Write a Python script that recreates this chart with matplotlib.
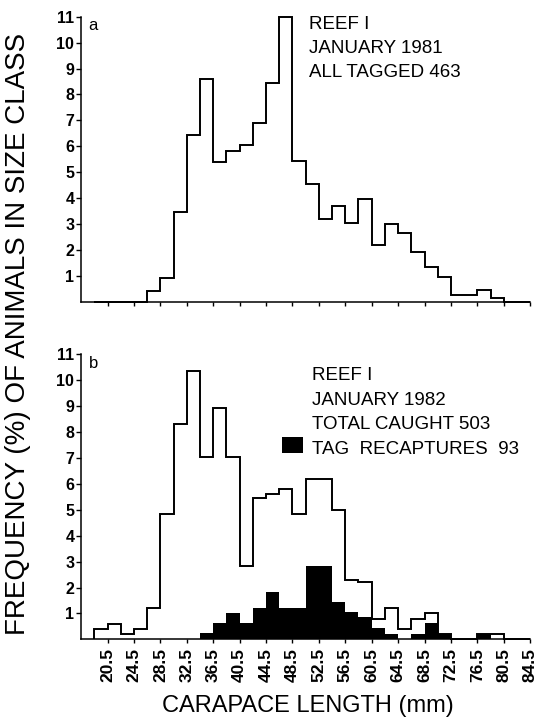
import numpy as np
import matplotlib.pyplot as plt
from matplotlib.patches import Rectangle

plt.rcParams['font.family'] = ['Liberation Sans', 'DejaVu Sans']

# size class boundaries (mm), 2 mm classes
edges = [18.5, 20.5, 22.5, 24.5, 26.5, 28.5, 30.5, 32.5, 34.5, 36.5, 38.5,
         40.5, 42.5, 44.5, 46.5, 48.5, 50.5, 52.5, 54.5, 56.5, 58.5, 60.5,
         62.5, 64.5, 66.5, 68.5, 70.5, 72.5, 74.5, 76.5, 78.5, 80.5, 82.5, 84.5]

# panel a: reef I, january 1981, all tagged
tagged_1981 = [0, 0, 0, 0, 0.4, 0.9, 3.45, 6.45, 8.6, 5.4, 5.8,
               6.05, 6.9, 8.45, 11.0, 5.45, 4.55, 3.2, 3.7, 3.05, 3.95, 2.2,
               3.0, 2.65, 1.9, 1.35, 0.95, 0.25, 0.25, 0.45, 0.15, 0, 0]

# panel b: reef I, january 1982
caught_1982 = [0.4, 0.6, 0.2, 0.4, 1.2, 4.85, 8.3, 10.35, 7.05, 8.95, 7.05,
               2.85, 5.45, 5.6, 5.8, 4.85, 6.2, 6.2, 5.0, 2.3, 2.2, 0.8,
               1.2, 0.4, 0.8, 1.0, 0.2, 0, 0, 0.2, 0.2, 0, 0]
recaptures_1982 = [0, 0, 0, 0, 0, 0, 0, 0, 0.25, 0.63, 1.03,
                   0.64, 1.22, 1.84, 1.22, 1.22, 2.84, 2.84, 1.45, 1.04, 0.85, 0.42,
                   0.22, 0, 0.2, 0.62, 0.2, 0, 0, 0.2, 0, 0, 0]

xticks = [20.5, 24.5, 28.5, 32.5, 36.5, 40.5, 44.5, 48.5, 52.5, 56.5,
          60.5, 64.5, 68.5, 72.5, 76.5, 80.5, 84.5]
yticks = [1, 2, 3, 4, 5, 6, 7, 8, 9, 10, 11]

fig = plt.figure(figsize=(5.39, 7.27), dpi=100)
ax1 = fig.add_axes([0.1508, 0.585, 0.8327, 0.3919])
ax2 = fig.add_axes([0.1508, 0.1206, 0.8327, 0.3919])

for ax in (ax1, ax2):
    ax.set_xlim(16.5, 84.5)
    ax.set_ylim(0, 11)
    ax.spines['top'].set_visible(False)
    ax.spines['right'].set_visible(False)
    ax.spines['left'].set_linewidth(1.1)
    ax.spines['bottom'].set_linewidth(1.1)
    ax.set_yticks(yticks)
    ax.set_yticklabels([str(v) for v in yticks], fontweight='bold')
    ax.set_xticks(xticks)
    ax.tick_params(axis='y', direction='out', length=3.5, width=1, labelsize=11.5, pad=1.5)
    ax.tick_params(axis='x', direction='out', length=3, width=1, labelsize=12.5, pad=3)

ax1.set_xticklabels([])
ax2.set_xticklabels([str(v) for v in xticks], rotation=90, fontweight='bold')

ax1.stairs(tagged_1981, edges, baseline=0, color='black', lw=1.4, clip_on=False)
ax2.stairs(recaptures_1982, edges, baseline=0, fill=True, color='black', lw=0)
ax2.stairs(caught_1982, edges, baseline=0, color='black', lw=1.4, clip_on=False)

ax1.text(17.6, 10.95, 'a', va='top', fontsize=12)
ax2.text(17.6, 10.95, 'b', va='top', fontsize=12)

ax1.text(51.0, 10.53, 'REEF I', fontsize=13.5, va='baseline')
ax1.text(51.0, 9.6, 'JANUARY 1981', fontsize=13.5, va='baseline')
ax1.text(51.0, 8.68, 'ALL TAGGED 463', fontsize=13.5, va='baseline')

ax2.text(51.4, 10.01, 'REEF I', fontsize=13.5, va='baseline')
ax2.text(51.4, 9.05, 'JANUARY 1982', fontsize=13.5, va='baseline')
ax2.text(51.4, 8.11, 'TOTAL CAUGHT 503', fontsize=13.5, va='baseline')
ax2.text(51.4, 7.15, 'TAG  RECAPTURES  93', fontsize=13.5, va='baseline')
ax2.add_patch(Rectangle((46.9, 7.2), 3.15, 0.62, color='black', lw=0))

fig.text(0.571, 0.029, 'CARAPACE LENGTH (mm)', ha='center', va='center', fontsize=17)
fig.text(0.033, 0.54, 'FREQUENCY (%) OF ANIMALS IN SIZE CLASS', rotation=90,
         ha='center', va='center', fontsize=20)

fig.savefig('out.png', dpi=100)
